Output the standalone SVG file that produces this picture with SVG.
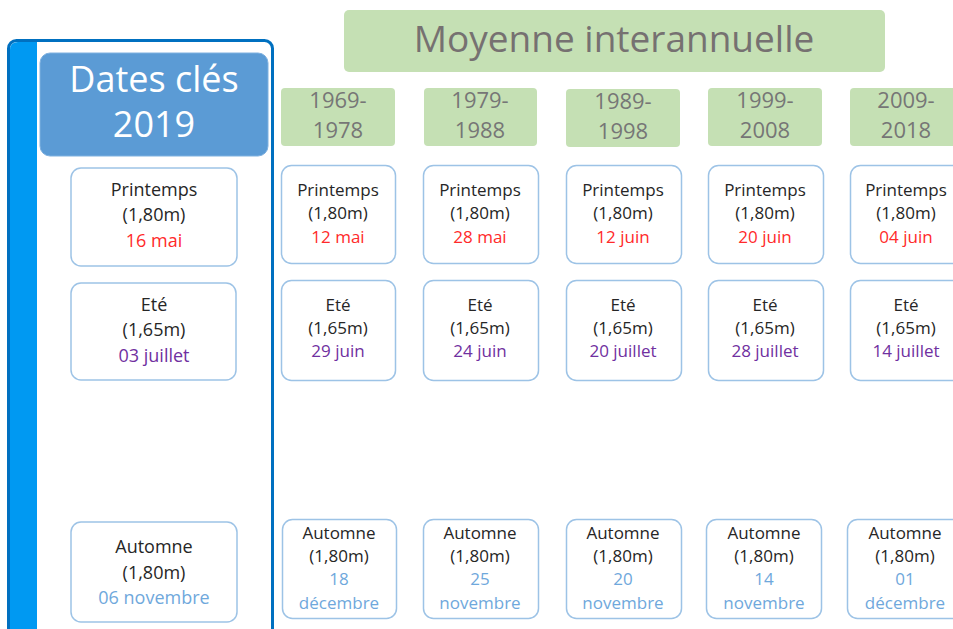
<svg xmlns="http://www.w3.org/2000/svg" width="953" height="629" viewBox="0 0 953 629">
<style>
text{font-family:"Open Sans","Liberation Sans",sans-serif;text-anchor:middle}
.node{fill:#fff;stroke:#9DC3E6;stroke-width:1.5}
.per{fill:#C5E0B4}
.pt{font-size:22px;fill:#767676}
.t{font-size:17px;fill:#262626}
.tl{font-size:18px;fill:#262626}
.red{fill:#FF2A2A}
.pur{fill:#7030A0}
.blu{fill:#6FA8DC}
</style>
<rect width="953" height="629" fill="#fff"/>
<g id="panel2019">
<rect x="8.5" y="40.5" width="264" height="640" rx="8" fill="#fff" stroke="#0070C0" stroke-width="3"/>
<path d="M10 50 Q10 42 18 42 L37 42 L37 629 L10 629 Z" fill="#0099F2"/>
</g>
<g id="title2019">
<rect x="40" y="53" width="228" height="103" rx="10" fill="#5B9BD5" stroke="#7FB1E0" stroke-width="1"/>
<text x="154" y="92" font-size="36" fill="#fff">Dates clés</text>
<text x="154" y="137" font-size="36" fill="#fff">2019</text>
</g>
<g id="titleMoy">
<rect x="344" y="10" width="541" height="62" rx="5" class="per"/>
<text x="614" y="52" font-size="37" fill="#767171">Moyenne interannuelle</text>
</g>
<g id="p1"><rect x="281" y="88" width="114" height="58" rx="4" class="per"/><text x="338" y="108" class="pt">1969-</text><text x="338" y="138" class="pt">1978</text></g>
<g id="p2"><rect x="424" y="88" width="113" height="58" rx="4" class="per"/><text x="480" y="108" class="pt">1979-</text><text x="480" y="138" class="pt">1988</text></g>
<g id="p3"><rect x="566" y="89" width="114" height="58" rx="4" class="per"/><text x="623" y="109" class="pt">1989-</text><text x="623" y="139" class="pt">1998</text></g>
<g id="p4"><rect x="708" y="88" width="114" height="58" rx="4" class="per"/><text x="765" y="108" class="pt">1999-</text><text x="765" y="138" class="pt">2008</text></g>
<g id="p5"><rect x="850" y="88" width="114" height="58" rx="4" class="per"/><text x="906" y="108" class="pt">2009-</text><text x="906" y="138" class="pt">2018</text></g>
<g id="connectors"></g>
<g id="L-printemps"><rect x="71" y="168" width="166" height="98" rx="10" class="node"/><text x="154" y="196" class="tl">Printemps</text><text x="154" y="221" class="tl">(1,80m)</text><text x="154" y="247" class="tl red">16 mai</text></g>
<g id="L-ete"><rect x="71" y="283" width="165" height="97" rx="10" class="node"/><text x="154" y="311" class="tl">Eté</text><text x="154" y="336" class="tl">(1,65m)</text><text x="154" y="362" class="tl pur">03 juillet</text></g>
<g id="L-automne"><rect x="71" y="522" width="166" height="100" rx="10" class="node"/><text x="154" y="553" class="tl">Automne</text><text x="154" y="579" class="tl">(1,80m)</text><text x="154" y="604" class="tl blu">06 novembre</text></g>

<g id="c1-printemps"><rect x="281.5" y="165.5" width="114" height="98" rx="10" class="node"/><text x="338" y="196" class="t">Printemps</text><text x="338" y="219" class="t">(1,80m)</text><text x="338" y="243" class="t red">12 mai</text></g>
<g id="c2-printemps"><rect x="423.5" y="165.5" width="115" height="98" rx="10" class="node"/><text x="480" y="196" class="t">Printemps</text><text x="480" y="219" class="t">(1,80m)</text><text x="480" y="243" class="t red">28 mai</text></g>
<g id="c3-printemps"><rect x="566.5" y="165.5" width="115" height="98" rx="10" class="node"/><text x="623" y="196" class="t">Printemps</text><text x="623" y="219" class="t">(1,80m)</text><text x="623" y="243" class="t red">12 juin</text></g>
<g id="c4-printemps"><rect x="708.5" y="165.5" width="115" height="98" rx="10" class="node"/><text x="765" y="196" class="t">Printemps</text><text x="765" y="219" class="t">(1,80m)</text><text x="765" y="243" class="t red">20 juin</text></g>
<g id="c5-printemps"><rect x="850.5" y="165.5" width="115" height="98" rx="10" class="node"/><text x="906" y="196" class="t">Printemps</text><text x="906" y="219" class="t">(1,80m)</text><text x="906" y="243" class="t red">04 juin</text></g>

<g id="c1-ete"><rect x="281.5" y="280.5" width="114" height="100" rx="10" class="node"/><text x="338" y="311" class="t">Eté</text><text x="338" y="334" class="t">(1,65m)</text><text x="338" y="357" class="t pur">29 juin</text></g>
<g id="c2-ete"><rect x="423.5" y="280.5" width="115" height="100" rx="10" class="node"/><text x="480" y="311" class="t">Eté</text><text x="480" y="334" class="t">(1,65m)</text><text x="480" y="357" class="t pur">24 juin</text></g>
<g id="c3-ete"><rect x="566.5" y="280.5" width="115" height="100" rx="10" class="node"/><text x="623" y="311" class="t">Eté</text><text x="623" y="334" class="t">(1,65m)</text><text x="623" y="357" class="t pur">20 juillet</text></g>
<g id="c4-ete"><rect x="708.5" y="280.5" width="115" height="100" rx="10" class="node"/><text x="765" y="311" class="t">Eté</text><text x="765" y="334" class="t">(1,65m)</text><text x="765" y="357" class="t pur">28 juillet</text></g>
<g id="c5-ete"><rect x="850.5" y="280.5" width="115" height="100" rx="10" class="node"/><text x="906" y="311" class="t">Eté</text><text x="906" y="334" class="t">(1,65m)</text><text x="906" y="357" class="t pur">14 juillet</text></g>

<g id="c1-automne"><rect x="282.5" y="519.5" width="114" height="99" rx="10" class="node"/><text x="339" y="539" class="t">Automne</text><text x="339" y="562" class="t">(1,80m)</text><text x="339" y="585" class="t blu">18</text><text x="339" y="609" class="t blu">décembre</text></g>
<g id="c2-automne"><rect x="423.5" y="519.5" width="115" height="99" rx="10" class="node"/><text x="480" y="539" class="t">Automne</text><text x="480" y="562" class="t">(1,80m)</text><text x="480" y="585" class="t blu">25</text><text x="480" y="609" class="t blu">novembre</text></g>
<g id="c3-automne"><rect x="566.5" y="519.5" width="115" height="99" rx="10" class="node"/><text x="623" y="539" class="t">Automne</text><text x="623" y="562" class="t">(1,80m)</text><text x="623" y="585" class="t blu">20</text><text x="623" y="609" class="t blu">novembre</text></g>
<g id="c4-automne"><rect x="706.5" y="519.5" width="115" height="99" rx="10" class="node"/><text x="764" y="539" class="t">Automne</text><text x="764" y="562" class="t">(1,80m)</text><text x="764" y="585" class="t blu">14</text><text x="764" y="609" class="t blu">novembre</text></g>
<g id="c5-automne"><rect x="847.5" y="519.5" width="115" height="99" rx="10" class="node"/><text x="905" y="539" class="t">Automne</text><text x="905" y="562" class="t">(1,80m)</text><text x="905" y="585" class="t blu">01</text><text x="905" y="609" class="t blu">décembre</text></g>
</svg>
